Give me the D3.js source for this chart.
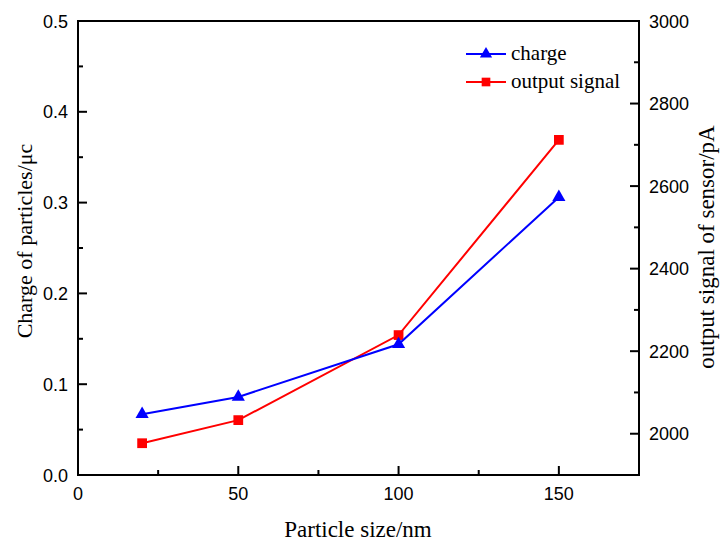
<!DOCTYPE html>
<html><head><meta charset="utf-8">
<script src="https://cdn.jsdelivr.net/npm/d3@7"></script>
<style>body{margin:0;background:#fff}svg{display:block}</style>
</head><body>
<svg id="c" width="722" height="543"></svg>
<script>
const sizes = [20, 50, 100, 150];
const charge = [0.067, 0.086, 0.144, 0.306];
const signal = [1977, 2033, 2239, 2712];
const xTicks = [0, 50, 100, 150];
const yLeftTicks = [0.0, 0.1, 0.2, 0.3, 0.4, 0.5];
const yRightTicks = [2000, 2200, 2400, 2600, 2800, 3000];
const seriesNames = ["charge", "output signal"];
const xTitle = "Particle size/nm";
const yLeftTitle = "Charge of particles/\u03bcc";
const yRightTitle = "output signal of sensor/pA";

const svg = d3.select("#c");
const L = 78, R = 639, T = 21, B = 475;
const x = d3.scaleLinear().domain([0, 175]).range([L, R]);
const yL = d3.scaleLinear().domain([0, 0.5]).range([B, T]);
const yR = d3.scaleLinear().domain([1900, 3000]).range([B, T]);
const sans = "'Liberation Sans', Arial, sans-serif";
const serif = "'Liberation Serif', 'Times New Roman', serif";

// frame
const ax = svg.append("g").attr("stroke", "#000").attr("stroke-width", 2).attr("fill", "none");
ax.append("rect").attr("x", L).attr("y", T).attr("width", R - L).attr("height", B - T);

// bottom ticks (inward)
const xMinor = d3.range(25, 175, 50);
xTicks.forEach(v => ax.append("line").attr("x1", x(v)).attr("x2", x(v)).attr("y1", B).attr("y2", B - 9));
xMinor.forEach(v => ax.append("line").attr("x1", x(v)).attr("x2", x(v)).attr("y1", B).attr("y2", B - 5));
svg.append("g").selectAll("text").data(xTicks).join("text")
  .attr("x", d => x(d)).attr("y", B + 25).attr("text-anchor", "middle")
  .attr("font-family", sans).attr("font-size", 18).text(d => d);

// left ticks
const yLMinor = [0.05, 0.15, 0.25, 0.35, 0.45];
yLeftTicks.forEach(v => ax.append("line").attr("x1", L).attr("x2", L + 9).attr("y1", yL(v)).attr("y2", yL(v)));
yLMinor.forEach(v => ax.append("line").attr("x1", L).attr("x2", L + 5).attr("y1", yL(v)).attr("y2", yL(v)));
svg.append("g").selectAll("text").data(yLeftTicks).join("text")
  .attr("x", L - 10).attr("y", d => yL(d) + 6.5).attr("text-anchor", "end")
  .attr("font-family", sans).attr("font-size", 18).text(d => d.toFixed(1));

// right ticks
const yRMinor = [2100, 2300, 2500, 2700, 2900];
yRightTicks.forEach(v => ax.append("line").attr("x1", R).attr("x2", R - 9).attr("y1", yR(v)).attr("y2", yR(v)));
yRMinor.forEach(v => ax.append("line").attr("x1", R).attr("x2", R - 5).attr("y1", yR(v)).attr("y2", yR(v)));
svg.append("g").selectAll("text").data(yRightTicks).join("text")
  .attr("x", R + 10).attr("y", d => yR(d) + 6.5).attr("text-anchor", "start")
  .attr("font-family", sans).attr("font-size", 18).text(d => d);

// titles
svg.append("text").attr("x", 358).attr("y", 537).attr("text-anchor", "middle")
  .attr("font-family", serif).attr("font-size", 23).text(xTitle);
svg.append("text").attr("transform", `translate(32,241) rotate(-90)`).attr("text-anchor", "middle")
  .attr("font-family", serif).attr("font-size", 22).text(yLeftTitle);
svg.append("text").attr("transform", `translate(714,247) rotate(-90)`).attr("text-anchor", "middle")
  .attr("font-family", serif).attr("font-size", 23).text(yRightTitle);

// series
const triangle = d3.symbol().type(d3.symbolTriangle).size(75);
const square = d3.symbol().type(d3.symbolSquare).size(95);

const chargeData = sizes.map((s, i) => [s, charge[i]]);
const signalData = sizes.map((s, i) => [s, signal[i]]);

svg.append("path").datum(signalData)
  .attr("d", d3.line().x(d => x(d[0])).y(d => yR(d[1])))
  .attr("fill", "none").attr("stroke", "#ff0000").attr("stroke-width", 2);
svg.append("g").selectAll("path").data(signalData).join("path")
  .attr("transform", d => `translate(${x(d[0])},${yR(d[1])})`).attr("d", square).attr("fill", "#ff0000");

svg.append("path").datum(chargeData)
  .attr("d", d3.line().x(d => x(d[0])).y(d => yL(d[1])))
  .attr("fill", "none").attr("stroke", "#0000ff").attr("stroke-width", 2);
svg.append("g").selectAll("path").data(chargeData).join("path")
  .attr("transform", d => `translate(${x(d[0])},${yL(d[1])})`).attr("d", triangle).attr("fill", "#0000ff");

// legend
const leg = svg.append("g");
const colors = ["#0000ff", "#ff0000"];
const syms = [d3.symbol().type(d3.symbolTriangle).size(65), d3.symbol().type(d3.symbolSquare).size(75)];
seriesNames.forEach((n, i) => {
  const yy = 54 + i * 28;
  leg.append("line").attr("x1", 466).attr("x2", 506).attr("y1", yy).attr("y2", yy)
    .attr("stroke", colors[i]).attr("stroke-width", 2);
  leg.append("path").attr("transform", `translate(486,${yy})`).attr("d", syms[i]).attr("fill", colors[i]);
  leg.append("text").attr("x", 511).attr("y", yy + 6).attr("font-family", serif).attr("font-size", 21).text(n);
});
</script>
</body></html>
